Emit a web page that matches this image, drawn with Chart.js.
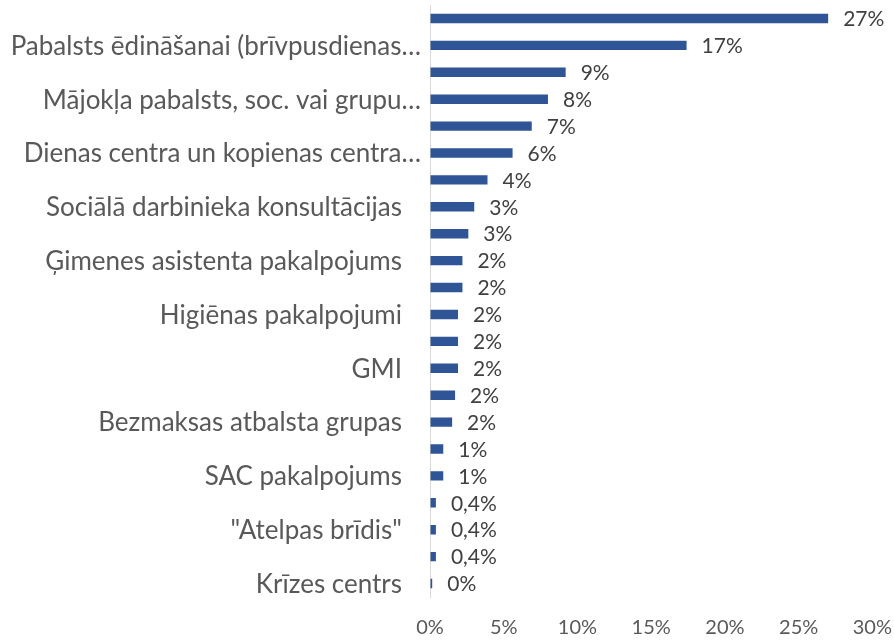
<!DOCTYPE html>
<html>
<head>
<meta charset="utf-8">
<script src="https://cdn.jsdelivr.net/npm/chart.js@4/dist/chart.umd.min.js"></script>
<style>
  html, body { margin: 0; padding: 0; background: #fff; }
  #wrap { width: 894px; height: 640px; position: relative; }
</style>
</head>
<body>
<div id="wrap"><canvas id="c"></canvas></div>
<script>
// kategorijas (Excel rāda tikai katru otro nosaukumu)
const categories = [
  '', 'Pabalsts ēdināšanai (brīvpusdienas…',
  '', 'Mājokļa pabalsts, soc. vai grupu…',
  '', 'Dienas centra un kopienas centra…',
  '', 'Sociālā darbinieka konsultācijas',
  '', 'Ģimenes asistenta pakalpojums',
  '', 'Higiēnas pakalpojumi',
  '', 'GMI',
  '', 'Bezmaksas atbalsta grupas',
  '', 'SAC pakalpojums',
  '', '"Atelpas brīdis"',
  '', 'Krīzes centrs'
];
const values = [27, 17.4, 9.2, 8.0, 6.9, 5.6, 3.9, 3.0, 2.6, 2.2, 2.2, 1.9, 1.9, 1.9, 1.7, 1.5, 0.9, 0.9, 0.4, 0.4, 0.4, 0.15];
const valueLabels = ['27%', '17%', '9%', '8%', '7%', '6%', '4%', '3%', '3%', '2%', '2%', '2%', '2%', '2%', '2%', '2%', '1%', '1%', '0,4%', '0,4%', '0,4%', '0%'];
const xTicks = [0, 5, 10, 15, 20, 25, 30];

const FONT = 'Lato, "Open Sans", sans-serif';

// vērtību etiķetes pie stabiņiem
const valueLabelPlugin = {
  id: 'valueLabels',
  afterDatasetsDraw(chart) {
    const ctx = chart.ctx;
    const meta = chart.getDatasetMeta(0);
    ctx.save();
    ctx.font = '21px ' + FONT;
    ctx.fillStyle = '#404040';
    ctx.textAlign = 'left';
    ctx.textBaseline = 'middle';
    meta.data.forEach((bar, i) => {
      ctx.fillText(valueLabels[i], bar.x + 15, bar.y + 1);
    });
    ctx.restore();
  }
};

// kategoriju nosaukumi (saīsinātie sniedzas tuvāk asij)
const categoryLabelPlugin = {
  id: 'categoryLabels',
  afterDraw(chart) {
    const ctx = chart.ctx;
    const y = chart.scales.y;
    ctx.save();
    ctx.font = '26px ' + FONT;
    ctx.fillStyle = '#595959';
    ctx.textAlign = 'right';
    ctx.textBaseline = 'middle';
    categories.forEach((label, i) => {
      if (!label) return;
      const dx = label.endsWith('…') ? 9 : 28;
      ctx.fillText(label, y.right - dx, y.getPixelForValue(i) + 1);
    });
    ctx.restore();
  }
};

new Chart(document.getElementById('c'), {
  type: 'bar',
  data: {
    labels: categories,
    datasets: [{
      data: values,
      backgroundColor: '#2F5597',
      borderWidth: 0,
      barPercentage: 0.7,
      categoryPercentage: 0.5
    }]
  },
  plugins: [valueLabelPlugin, categoryLabelPlugin],
  options: {
    indexAxis: 'y',
    responsive: true,
    maintainAspectRatio: false,
    animation: false,
    layout: { padding: { top: 5, right: 3, bottom: 2, left: 0 } },
    plugins: {
      legend: { display: false },
      tooltip: { enabled: false }
    },
    scales: {
      x: {
        min: 0,
        max: 30,
        afterBuildTicks: (scale) => { scale.ticks = xTicks.map(v => ({ value: v })); },
        afterFit: (scale) => { scale.height = 41; },
        grid: { display: true, color: 'rgba(0,0,0,0)', drawOnChartArea: false, drawTicks: true, tickLength: 17 },
        border: { display: false },
        ticks: {
          padding: 2,
          color: '#595959',
          font: { family: FONT, size: 20 },
          callback: (v) => v + '%'
        }
      },
      y: {
        afterFit: (scale) => { scale.width = 430; },
        grid: { display: false, drawTicks: false },
        border: { display: true, color: '#D9D9D9', width: 1 },
        ticks: { display: false }
      }
    }
  }
});
</script>
</body>
</html>
